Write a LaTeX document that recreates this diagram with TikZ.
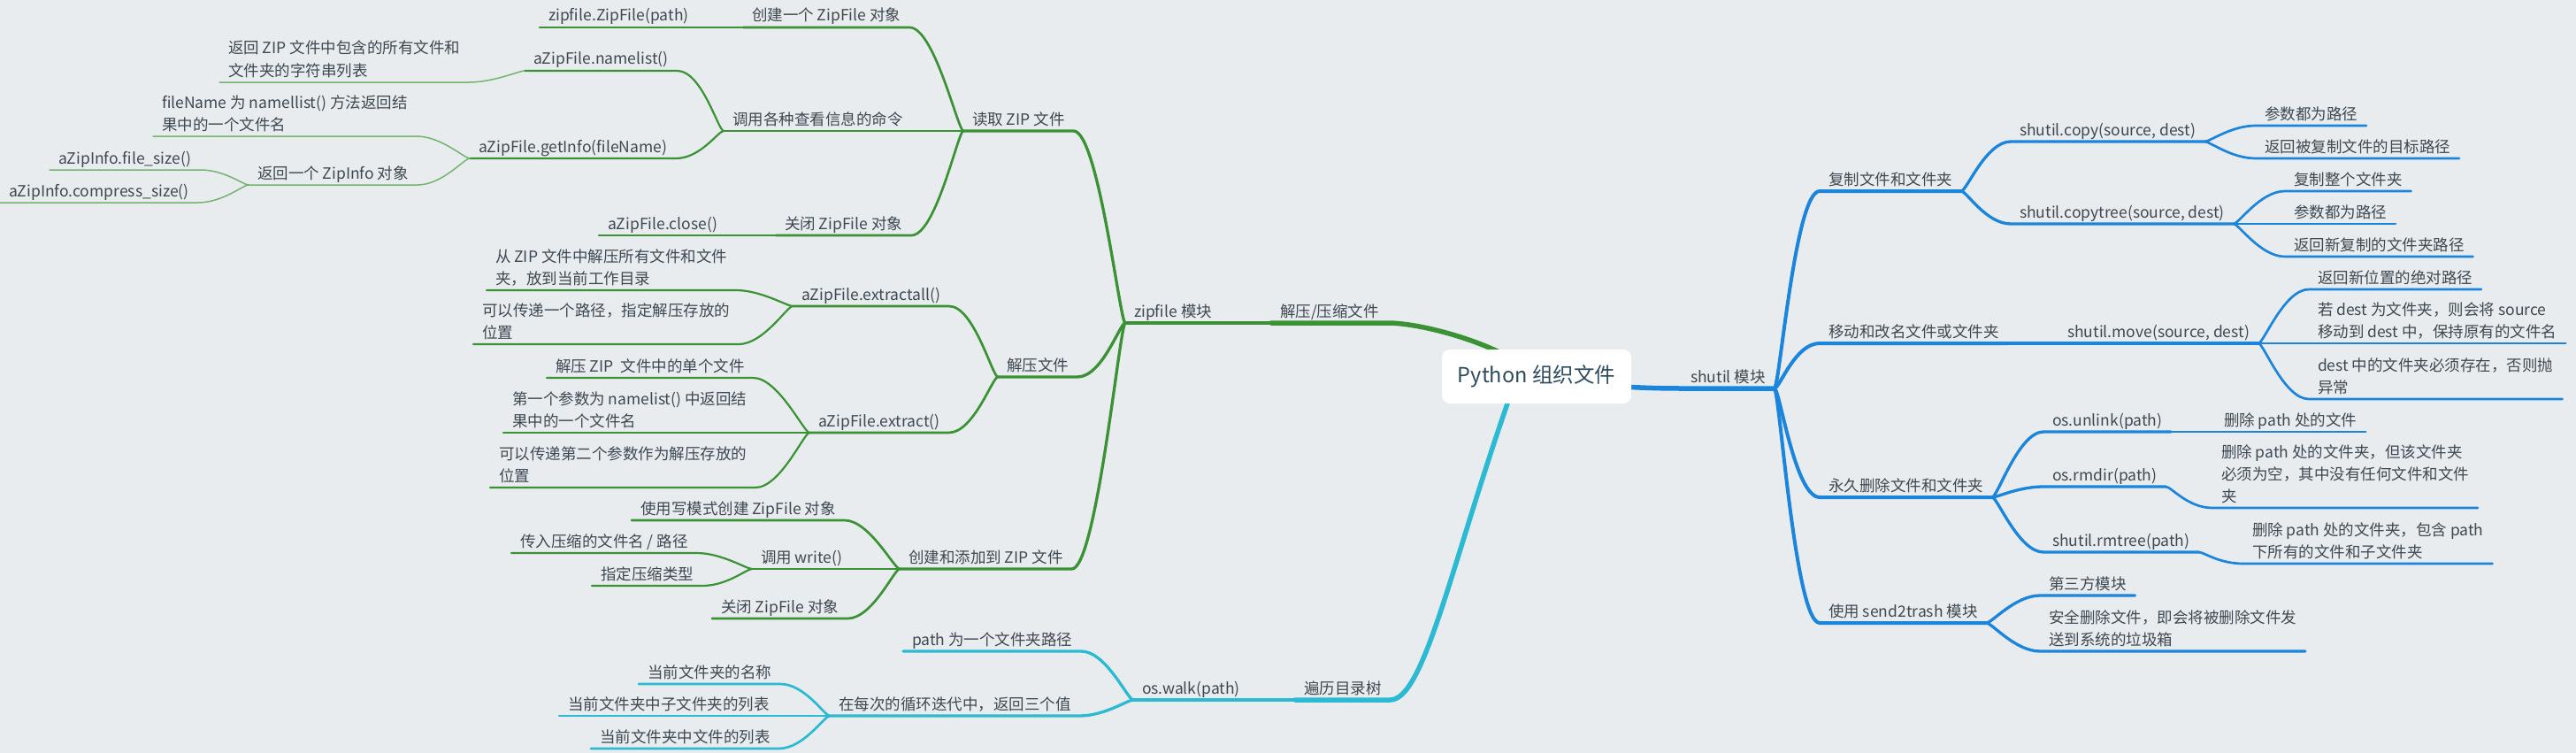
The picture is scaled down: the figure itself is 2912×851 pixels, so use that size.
\documentclass[tikz,border=0pt]{standalone}
\usepackage{fontspec}
\newfontfamily\cjk{Noto Sans CJK SC}
\usepackage{xcolor}
\usepackage{tikz}
\usetikzlibrary{calc}
\definecolor{paper}{HTML}{E8ECEF}
\definecolor{ink}{HTML}{3E4851}
\definecolor{rootink}{HTML}{2D4B5D}
\definecolor{zgreen}{HTML}{3A9235}
\definecolor{zgreenlt}{HTML}{74B46F}
\definecolor{sblue}{HTML}{1B84DB}
\definecolor{wcyan}{HTML}{2CBAD3}
\pgfdeclarelayer{edges}
\pgfsetlayers{edges,main}
\tikzset{
  topic/.style={anchor=south west,inner xsep=10pt,inner ysep=0pt,outer sep=0pt,text depth=7pt,
    align=left,text=ink,font=\cjk\fontsize{17.5}{25}\selectfont},
  rootbox/.style={fill=white,rounded corners=9pt,minimum width=214pt,minimum height=61pt,
    text=rootink,font=\cjk\fontsize{23.5}{28}\selectfont},
  zipline/.style={draw=zgreen,line cap=round},
  ziplight/.style={draw=zgreenlt,line cap=round},
  shline/.style={draw=sblue,line cap=round},
  walkline/.style={draw=wcyan,line cap=round},
  lv1/.style={line width=5.5pt},
  lv2/.style={line width=4pt},
  lv3/.style={line width=3.3pt},
  lv4/.style={line width=2.7pt},
  lv5/.style={line width=2.2pt},
  lv6/.style={line width=1.5pt},
  lft/.style={to path={.. controls ([xshift=-6pt]\tikztostart) and ([xshift=28pt]\tikztotarget) .. (\tikztotarget)}},
  rgt/.style={to path={.. controls ([xshift=6pt]\tikztostart) and ([xshift=-28pt]\tikztotarget) .. (\tikztotarget)}}
}

\begin{document}
\begin{tikzpicture}[x=1pt,y=-1pt]
  \useasboundingbox (0,0) rectangle (2912,851);

  % zipfile
  \node[topic] (zipgrp) at (1437,365) {解压/压缩文件};
  \node[topic] (zipmod) at (1272,365) {zipfile 模块};
  \node[topic] (read) at (1089,148) {读取 ZIP 文件};
  \node[topic] (unzip) at (1128,426) {解压文件};
  \node[topic] (create) at (1017,643) {创建和添加到 ZIP 文件};
  \node[topic] (newzip) at (840,31) {创建一个 ZipFile 对象};
  \node[topic] (query) at (818,148) {调用各种查看信息的命令};
  \node[topic] (closezip) at (877,266) {关闭 ZipFile 对象};
  \node[topic] (ctor) at (610,31) {zipfile.ZipFile(path)};
  \node[topic] (closecall) at (677,266) {aZipFile.close()};
  \node[topic] (namelist) at (593,80) {aZipFile.namelist()};
  \node[topic] (getinfo) at (531,179) {aZipFile.getInfo(fileName)};
  \node[topic] (namesdesc) at (248,93) {返回 ZIP 文件中包含的所有文件和\\文件夹的字符串列表};
  \node[topic] (fnamedesc) at (173,154) {fileName 为 namellist() 方法返回结\\果中的一个文件名};
  \node[topic] (zipinfo) at (281,209) {返回一个 ZipInfo 对象};
  \node[topic] (fsize) at (56,192) {aZipInfo.file\_size()};
  \node[topic] (csize) at (0,229) {aZipInfo.compress\_size()};
  \node[topic] (extractall) at (896,346) {aZipFile.extractall()};
  \node[topic] (extract) at (915,489) {aZipFile.extract()};
  \node[topic] (allto) at (550,328) {从 ZIP 文件中解压所有文件和文件\\夹，放到当前工作目录};
  \node[topic] (allpath) at (535,389) {可以传递一个路径，指定解压存放的\\位置};
  \node[topic] (onefile) at (618,427) {解压 ZIP\ \ 文件中的单个文件};
  \node[topic] (onename) at (569,489) {第一个参数为 namelist() 中返回结\\果中的一个文件名};
  \node[topic] (onepath) at (554,551) {可以传递第二个参数作为解压存放的\\位置};
  \node[topic] (wmode) at (714,588) {使用写模式创建 ZipFile 对象};
  \node[topic] (write) at (850,643) {调用 write()};
  \node[topic] (wclose) at (805,699) {关闭 ZipFile 对象};
  \node[topic] (wname) at (578,625) {传入压缩的文件名 / 路径};
  \node[topic] (wtype) at (669,662) {指定压缩类型};

  % os.walk
  \node[topic] (walkgrp) at (1464,791) {遍历目录树};
  \node[topic] (walk) at (1281,791) {os.walk(path)};
  \node[topic] (walkpath) at (1021,736) {path 为一个文件夹路径};
  \node[topic] (walkret) at (938,809) {在每次的循环迭代中，返回三个值};
  \node[topic] (curname) at (722,773) {当前文件夹的名称};
  \node[topic] (curdirs) at (632,809) {当前文件夹中子文件夹的列表};
  \node[topic] (curfiles) at (668,846) {当前文件夹中文件的列表};

  % shutil
  \node[topic] (shutil) at (1901,439) {shutil 模块};
  \node[topic] (copygrp) at (2057,216) {复制文件和文件夹};
  \node[topic] (movegrp) at (2057,388) {移动和改名文件或文件夹};
  \node[topic] (delgrp) at (2057,562) {永久删除文件和文件夹};
  \node[topic] (trashgrp) at (2057,704) {使用 send2trash 模块};
  \node[topic] (copy) at (2273,160) {shutil.copy(source, dest)};
  \node[topic] (copytree) at (2273,253) {shutil.copytree(source, dest)};
  \node[topic] (copyarg) at (2550,142) {参数都为路径};
  \node[topic] (copyret) at (2550,179) {返回被复制文件的目标路径};
  \node[topic] (treeall) at (2583,216) {复制整个文件夹};
  \node[topic] (treearg) at (2583,253) {参数都为路径};
  \node[topic] (treeret) at (2583,290) {返回新复制的文件夹路径};
  \node[topic] (move) at (2327,388) {shutil.move(source, dest)};
  \node[topic] (moveret) at (2610,327) {返回新位置的绝对路径};
  \node[topic] (movedir) at (2610,388) {若 dest 为文件夹，则会将 source\\移动到 dest 中，保持原有的文件名};
  \node[topic] (moveerr) at (2610,451) {dest 中的文件夹必须存在，否则抛\\异常};
  \node[topic] (unlink) at (2310,488) {os.unlink(path)};
  \node[topic] (rmdir) at (2310,550) {os.rmdir(path)};
  \node[topic] (rmtree) at (2310,624) {shutil.rmtree(path)};
  \node[topic] (unlinkd) at (2504,488) {删除 path 处的文件};
  \node[topic] (rmdird) at (2501,574) {删除 path 处的文件夹，但该文件夹\\必须为空，其中没有任何文件和文件\\夹};
  \node[topic] (rmtreed) at (2536,637) {删除 path 处的文件夹，包含 path\\下所有的文件和子文件夹};
  \node[topic] (thirdp) at (2306,673) {第三方模块};
  \node[topic] (safedel) at (2306,736) {安全删除文件，即会将被删除文件发\\送到系统的垃圾箱};

  \node[rootbox] (root) at (1737,425.5) {Python 组织文件};

  \begin{pgfonlayer}{edges}
    \fill[paper] (0,0) rectangle (2912,851);

    \draw[zipline,lv1] (zipgrp.south west) -- (zipgrp.south east)
      .. controls +(40,0) and ($(root.center)+(-35,-35)$) .. (root.center);
    \draw[zipline,lv2] (zipgrp.south west) to[lft] (zipmod.south east) -- (zipmod.south west);
    \foreach \kid in {read,unzip,create}
      \draw[zipline,lv3] (zipmod.south west) to[lft] (\kid.south east) -- (\kid.south west);
    \foreach \kid in {newzip,query,closezip}
      \draw[zipline,lv4] (read.south west) to[lft] (\kid.south east) -- (\kid.south west);
    \draw[zipline,lv5] (newzip.south west) to[lft] (ctor.south east) -- (ctor.south west);
    \draw[zipline,lv5] (closezip.south west) to[lft] (closecall.south east) -- (closecall.south west);
    \foreach \kid in {namelist,getinfo}
      \draw[zipline,lv5] (query.south west) to[lft] (\kid.south east) -- (\kid.south west);
    \draw[ziplight,lv6] (namelist.south west) to[lft] (namesdesc.south east) -- (namesdesc.south west);
    \foreach \kid in {fnamedesc,zipinfo}
      \draw[ziplight,lv6] (getinfo.south west) to[lft] (\kid.south east) -- (\kid.south west);
    \foreach \kid in {fsize,csize}
      \draw[ziplight,lv6] (zipinfo.south west) to[lft] (\kid.south east) -- (\kid.south west);
    \foreach \kid in {extractall,extract}
      \draw[zipline,lv4] (unzip.south west) to[lft] (\kid.south east) -- (\kid.south west);
    \foreach \kid in {allto,allpath}
      \draw[zipline,lv5] (extractall.south west) to[lft] (\kid.south east) -- (\kid.south west);
    \foreach \kid in {onefile,onename,onepath}
      \draw[zipline,lv5] (extract.south west) to[lft] (\kid.south east) -- (\kid.south west);
    \foreach \kid in {wmode,write,wclose}
      \draw[zipline,lv4] (create.south west) to[lft] (\kid.south east) -- (\kid.south west);
    \foreach \kid in {wname,wtype}
      \draw[zipline,lv5] (write.south west) to[lft] (\kid.south east) -- (\kid.south west);

    \draw[walkline,lv1] (walkgrp.south west) -- (walkgrp.south east)
      .. controls +(38,0) and ($(root.south)+(-97,184)$) .. ([xshift=-33pt]root.south)
      -- ([xshift=-25pt]root.center);
    \draw[walkline,lv2] (walkgrp.south west) to[lft] (walk.south east) -- (walk.south west);
    \foreach \kid in {walkpath,walkret}
      \draw[walkline,lv3] (walk.south west) to[lft] (\kid.south east) -- (\kid.south west);
    \foreach \kid in {curname,curdirs,curfiles}
      \draw[walkline,lv4] (walkret.south west) to[lft] (\kid.south east) -- (\kid.south west);

    \draw[shline,lv1] ([yshift=-8pt]root.center) to[out=0,in=180] (shutil.south west) -- (shutil.south east);
    \foreach \kid in {copygrp,movegrp,delgrp,trashgrp}
      \draw[shline,lv2] (shutil.south east) to[rgt] (\kid.south west) -- (\kid.south east);
    \foreach \kid in {copy,copytree}
      \draw[shline,lv3] (copygrp.south east) to[rgt] (\kid.south west) -- (\kid.south east);
    \foreach \kid in {copyarg,copyret}
      \draw[shline,lv4] (copy.south east) to[rgt] (\kid.south west) -- (\kid.south east);
    \foreach \kid in {treeall,treearg,treeret}
      \draw[shline,lv4] (copytree.south east) to[rgt] (\kid.south west) -- (\kid.south east);
    \draw[shline,lv3] (movegrp.south east) to[rgt] (move.south west) -- (move.south east);
    \foreach \kid in {moveret,movedir,moveerr}
      \draw[shline,lv4] (move.south east) to[rgt] (\kid.south west) -- (\kid.south east);
    \foreach \kid in {unlink,rmdir,rmtree}
      \draw[shline,lv3] (delgrp.south east) to[rgt] (\kid.south west) -- (\kid.south east);
    \draw[shline,lv4] (unlink.south east) to[rgt] (unlinkd.south west) -- (unlinkd.south east);
    \draw[shline,lv4] (rmdir.south east) to[rgt] (rmdird.south west) -- (rmdird.south east);
    \draw[shline,lv4] (rmtree.south east) to[rgt] (rmtreed.south west) -- (rmtreed.south east);
    \foreach \kid in {thirdp,safedel}
      \draw[shline,lv3] (trashgrp.south east) to[rgt] (\kid.south west) -- (\kid.south east);
  \end{pgfonlayer}
\end{tikzpicture}
\end{document}
